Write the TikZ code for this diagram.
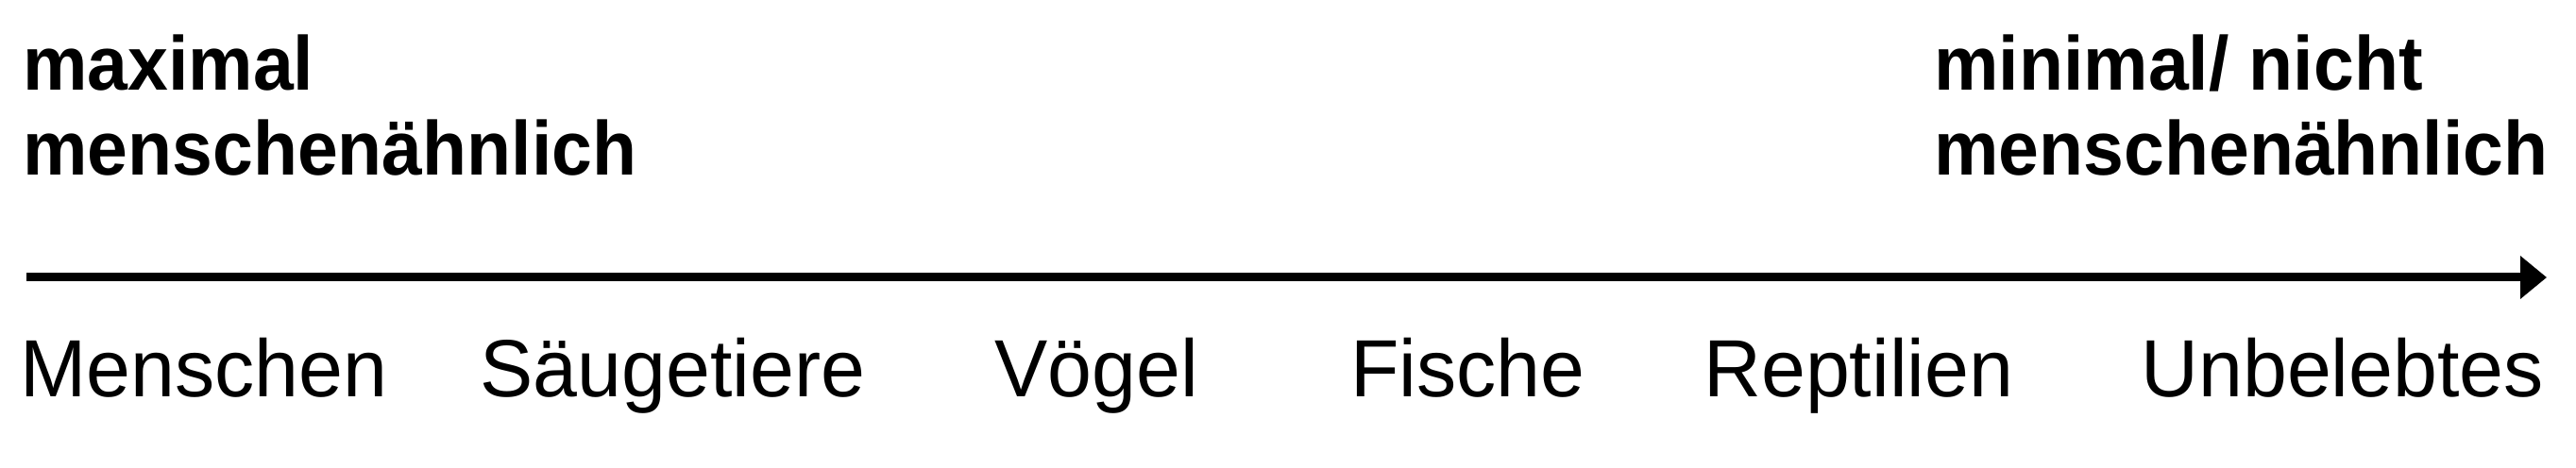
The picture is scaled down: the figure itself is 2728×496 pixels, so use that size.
\documentclass[tikz,border=0pt]{standalone}
\usepackage{fontspec}
\setmainfont{Liberation Sans}
\newfontfamily\polefont[FakeStretch=0.95]{Liberation Sans}
\newfontfamily\klassefont[FakeStretch=0.98]{Liberation Sans}
\usetikzlibrary{arrows.meta}

\tikzset{
  pole/.style={font=\polefont\bfseries\fontsize{40.5}{45}\selectfont, align=left, anchor=base west, inner sep=0pt},
  klasse/.style={font=\klassefont\fontsize{43}{50}\selectfont, anchor=base west, inner sep=0pt}
}

\begin{document}
\begin{tikzpicture}[
		x={(0.5pt,0pt)},
		y={(0pt,-0.5pt)}
	]
		\useasboundingbox (0,0) rectangle (2728,496);

		% scale
		\coordinate (links) at (28,294);
		\coordinate (rechts) at (2697,294);
		\draw[line width=4.5pt, -{Triangle[length=14pt,width=22pt]}] (links) -- (rechts);

		% poles (base = last line)
		\node[pole] (maximal) at (24,186) {maximal\\menschenähnlich};
		\node[pole] (minimal) at (2048,186) {minimal/ nicht\\menschenähnlich};

		% classes
		\foreach \x/\name/\txt in {21/menschen/Menschen, 508/saeuger/Säugetiere, 1053/voegel/Vögel, 1430/fische/Fische, 1804/reptilien/Reptilien, 2267/unbelebt/Unbelebtes}
			\node[klasse] (\name) at (\x,420) {\txt};

	\end{tikzpicture}
\end{document}
